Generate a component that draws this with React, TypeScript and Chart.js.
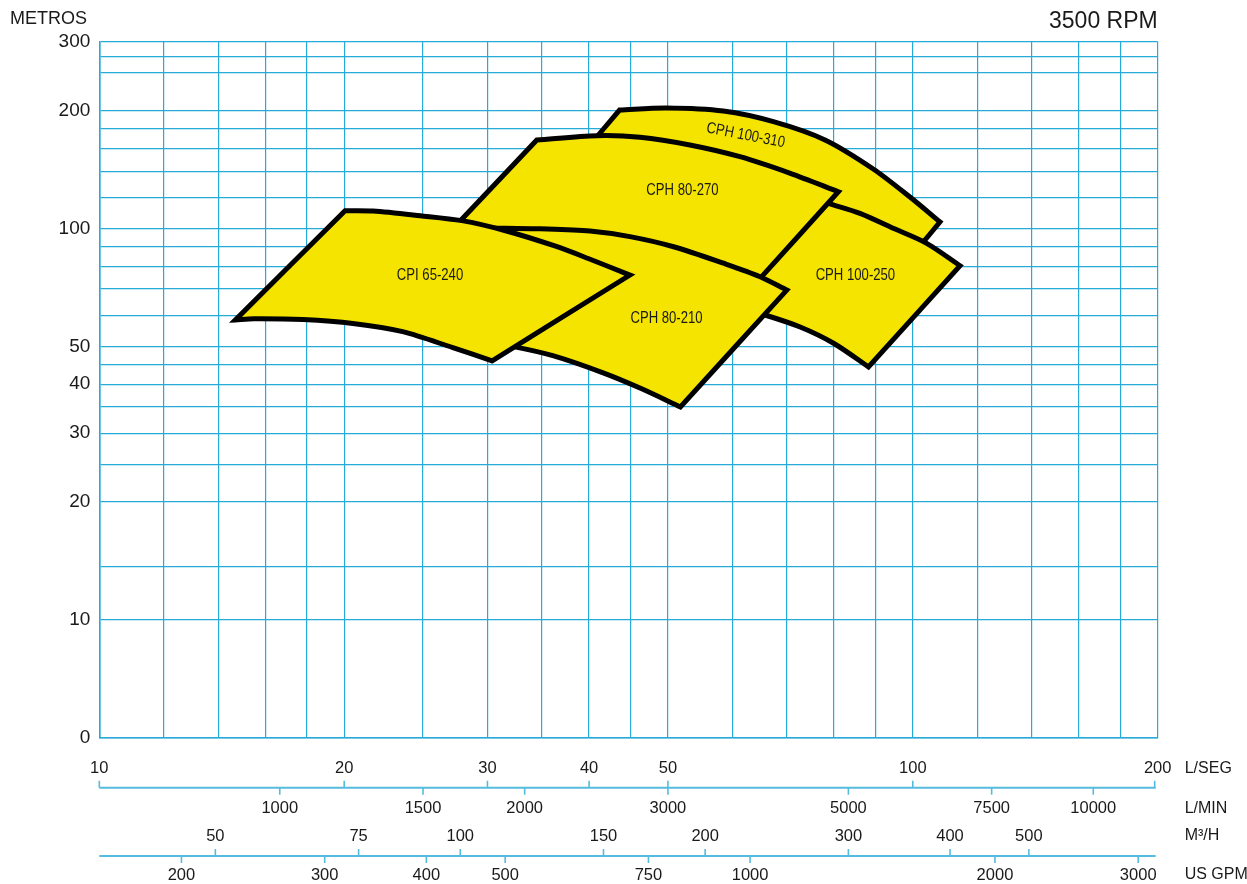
import { useEffect, useRef } from 'react';
import { Chart, registerables } from 'chart.js';

Chart.register(...registerables);

// ---- Axis definitions (L/SEG flow on a log axis, head in metres on a log axis) ----
const FLOW_GRID = [10, 12, 14, 16, 18, 20, 25, 30, 35, 40, 45, 50, 60, 70, 80, 90, 100, 120, 140, 160, 180, 200];
const FLOW_LABELS = [10, 20, 30, 40, 50, 100, 200];
const HEAD_GRID = [5, 10, 13.7, 20, 25, 30, 35, 40, 45, 50, 60, 70, 80, 90, 100, 120, 140, 160, 180, 200, 250, 275, 300];
const HEAD_LABELS = [5, 10, 20, 30, 40, 50, 100, 200, 300]; // bottom line (5) is printed as "0"

// ---- Secondary flow units ----
const LMIN_TICKS = [1000, 1500, 2000, 3000, 5000, 7500, 10000];
const M3H_TICKS = [50, 75, 100, 150, 200, 300, 400, 500];
const GPM_TICKS = [200, 300, 400, 500, 750, 1000, 2000, 3000];
const LMIN_PER_LSEG = 60;
const M3H_PER_LSEG = 3.6;
const GPM_PER_LSEG = 15.8503;

// ---- Pump coverage areas (flow L/SEG, head m), outline order; *_CORNERS = indices of sharp vertices ----
const CPI_65_240_Q = [30.4, 27.2, 23.6, 20.5, 17.8, 15.5, 14.7, 20.05, 21.7, 24.8, 27.9, 31.5, 36.3, 39.9, 44.9];
const CPI_65_240_H = [45.9, 49.6, 54.5, 57.2, 58.5, 58.8, 58.4, 111.0, 110.8, 107.8, 104.7, 98.8, 90.2, 83.8, 76.0];
const CPI_65_240_CORNERS = [6, 7, 14];

const CPH_80_210_Q = [30.4, 31.5, 34.8, 40.1, 44.9, 50.8, 58.5, 64.9, 70.0, 51.8, 46.2, 41.7, 36.1, 32.3, 30.9];
const CPH_80_210_H = [100.3, 100.1, 99.8, 98.5, 95.3, 89.8, 81.5, 75.3, 69.6, 35.0, 39.1, 42.7, 47.3, 49.9, 50.4];
const CPH_80_210_CORNERS = [8, 9, 14];

const CPH_80_270_Q = [27.4, 34.5, 40.9, 46.2, 53.2, 61.3, 70.7, 81.0, 65.2, 63.1, 41.3, 28.6];
const CPH_80_270_H = [101.4, 168.3, 172.6, 171.0, 163.4, 152.5, 138.3, 124.1, 75.3, 69.6, 83.1, 93.4];
const CPH_80_270_CORNERS = [1, 7, 8, 9, 10, 11];

const CPH_100_250_Q = [75.8, 78.7, 86.1, 94.6, 104.0, 114.3, 88.2, 79.9, 72.7, 65.8, 62.2, 64.0];
const CPH_100_250_H = [118.9, 115.9, 109.3, 100.1, 91.6, 80.3, 44.3, 50.9, 56.0, 60.1, 61.9, 88.1];
const CPH_100_250_CORNERS = [5, 6, 10, 11];

const CPH_100_310_Q = [40.1, 43.6, 49.8, 58.5, 67.4, 78.0, 89.4, 99.2, 108.0, 103.5, 99.2, 72.7, 43.7];
const CPH_100_310_H = [163.4, 200.7, 203.1, 199.5, 187.4, 168.3, 141.9, 120.3, 103.9, 93.4, 87.1, 118.2, 158.6];
const CPH_100_310_CORNERS = [1, 8, 9, 10, 11, 12];

// ---- Area labels ----
const AREA_NAMES = ['CPI 65-240', 'CPH 80-210', 'CPH 80-270', 'CPH 100-250', 'CPH 100-310'];
const AREA_LABEL_Q = [25.5, 49.8, 52.1, 85.0, 62.3];
const AREA_LABEL_H = [75.6, 58.9, 124.6, 75.6, 172.8];
const AREA_LABEL_ANGLE = [0, 0, 0, 0, 11];

const SANS = '"Liberation Sans", Arial, Helvetica, sans-serif';
const GRID_CYAN = 'rgb(38,170,215)';
const AXIS_CYAN = 'rgb(85,188,224)';
const INK = '#1a1a1a';
const YELLOW = 'rgb(244,228,0)';

// Builds the closed outline; sharp vertices are repeated so the smoothed curve keeps them pointed.
function closedOutline(q: number[], h: number[], corners: number[]) {
  const pts: { x: number; y: number }[] = [];
  q.forEach((x, i) => {
    pts.push({ x, y: h[i] });
    if (corners.includes(i)) pts.push({ x, y: h[i] });
  });
  pts.push({ ...pts[0] });
  return pts;
}

const AREAS = [
  { name: 'CPI 65-240', q: CPI_65_240_Q, h: CPI_65_240_H, c: CPI_65_240_CORNERS, order: 0 },
  { name: 'CPH 80-210', q: CPH_80_210_Q, h: CPH_80_210_H, c: CPH_80_210_CORNERS, order: 1 },
  { name: 'CPH 80-270', q: CPH_80_270_Q, h: CPH_80_270_H, c: CPH_80_270_CORNERS, order: 2 },
  { name: 'CPH 100-250', q: CPH_100_250_Q, h: CPH_100_250_H, c: CPH_100_250_CORNERS, order: 3 },
  { name: 'CPH 100-310', q: CPH_100_310_Q, h: CPH_100_310_H, c: CPH_100_310_CORNERS, order: 4 },
];

const overlayPlugin = {
  id: 'pumpOverlay',
  afterDatasetsDraw(chart: any) {
    const { ctx } = chart;
    const xs = chart.scales.x;
    const ys = chart.scales.y;
    ctx.save();
    ctx.fillStyle = INK;
    ctx.font = `16px ${SANS}`;
    ctx.textAlign = 'center';
    ctx.textBaseline = 'middle';
    AREA_NAMES.forEach((name, i) => {
      const px = xs.getPixelForValue(AREA_LABEL_Q[i]);
      const py = ys.getPixelForValue(AREA_LABEL_H[i]);
      ctx.save();
      ctx.translate(px, py);
      ctx.rotate((AREA_LABEL_ANGLE[i] * Math.PI) / 180);
      ctx.scale(0.82, 1);
      ctx.fillText(name, 0, 0);
      ctx.restore();
    });
    ctx.restore();
  },
  afterDraw(chart: any) {
    const { ctx, chartArea: a } = chart;
    const xs = chart.scales.x;
    const x0 = xs.getPixelForValue(10);
    const x1 = xs.getPixelForValue(200);
    const line1 = a.bottom + 50;
    const line2 = a.bottom + 118.3;
    ctx.save();

    // axis lines
    ctx.strokeStyle = AXIS_CYAN;
    ctx.lineWidth = 2;
    ctx.beginPath();
    ctx.moveTo(x0, line1);
    ctx.lineTo(x1 - 2, line1);
    ctx.moveTo(x0, line2);
    ctx.lineTo(x1 - 2, line2);
    ctx.stroke();

    // tick marks
    ctx.lineWidth = 1.6;
    ctx.beginPath();
    const tick = (x: number, y: number, dy: number) => {
      ctx.moveTo(x, y);
      ctx.lineTo(x, y + dy);
    };
    FLOW_LABELS.forEach((v) => tick(Math.min(xs.getPixelForValue(v), x1 - 3), line1, -7));
    LMIN_TICKS.forEach((v) => tick(xs.getPixelForValue(v / LMIN_PER_LSEG), line1, 7));
    M3H_TICKS.forEach((v) => tick(xs.getPixelForValue(v / M3H_PER_LSEG), line2, -7));
    GPM_TICKS.forEach((v) => tick(xs.getPixelForValue(v / GPM_PER_LSEG), line2, 7));
    ctx.stroke();

    // unit tick labels
    ctx.fillStyle = INK;
    ctx.font = `16.5px ${SANS}`;
    ctx.textAlign = 'center';
    ctx.textBaseline = 'middle';
    LMIN_TICKS.forEach((v) => ctx.fillText(String(v), xs.getPixelForValue(v / LMIN_PER_LSEG), line1 + 20.6));
    M3H_TICKS.forEach((v) => ctx.fillText(String(v), xs.getPixelForValue(v / M3H_PER_LSEG), line2 - 19.5));
    GPM_TICKS.forEach((v) => ctx.fillText(String(v), xs.getPixelForValue(v / GPM_PER_LSEG), line2 + 19));

    // unit names
    ctx.textAlign = 'left';
    ctx.font = `16px ${SANS}`;
    const ux = a.right + 27;
    ctx.fillText('L/SEG', ux, a.bottom + 30.8);
    ctx.fillText('L/MIN', ux, line1 + 20.6);
    ctx.fillText('M³/H', ux, line2 - 20.5);
    ctx.fillText('US GPM', ux, line2 + 18.5);

    // titles
    ctx.font = `18px ${SANS}`;
    ctx.textAlign = 'left';
    ctx.fillText('METROS', 10, a.top - 23);
    ctx.font = `23px ${SANS}`;
    ctx.textAlign = 'right';
    ctx.fillText('3500 RPM', a.right, a.top - 20.5);
    ctx.restore();
  },
};

export default function App() {
  const canvasRef = useRef<HTMLCanvasElement | null>(null);

  useEffect(() => {
    const canvas = canvasRef.current;
    if (!canvas) return;
    const chart = new Chart(canvas, {
      type: 'line',
      data: {
        datasets: AREAS.map((ar) => ({
          label: ar.name,
          data: closedOutline(ar.q, ar.h, ar.c),
          order: ar.order,
          borderColor: '#000000',
          borderWidth: 5,
          borderJoinStyle: 'miter',
          borderCapStyle: 'round',
          backgroundColor: YELLOW,
          fill: 'shape',
          tension: 0.3,
          pointRadius: 0,
          pointHoverRadius: 0,
        })),
      },
      options: {
        animation: false,
        responsive: true,
        maintainAspectRatio: false,
        events: [],
        layout: { padding: { left: 0, top: 41.7, right: 89.3, bottom: 0 } },
        plugins: {
          legend: { display: false },
          tooltip: { enabled: false },
          title: { display: false },
        },
        scales: {
          x: {
            type: 'logarithmic',
            min: 10,
            max: 200,
            afterBuildTicks: (scale: any) => {
              scale.ticks = FLOW_GRID.map((v) => ({ value: v }));
            },
            afterFit: (scale: any) => {
              scale.height = 146.3;
            },
            grid: { color: GRID_CYAN, lineWidth: 1.2, drawTicks: false },
            border: { display: true, color: GRID_CYAN, width: 1.6 },
            ticks: {
              autoSkip: false,
              maxRotation: 0,
              minRotation: 0,
              padding: 20.4,
              color: INK,
              font: { family: SANS, size: 16.5 },
              callback: (v: any) => (FLOW_LABELS.includes(Number(v)) ? String(v) : ''),
            },
          },
          y: {
            type: 'logarithmic',
            min: 5,
            max: 300,
            afterBuildTicks: (scale: any) => {
              scale.ticks = HEAD_GRID.map((v) => ({ value: v }));
            },
            afterFit: (scale: any) => {
              scale.width = 99.3;
            },
            grid: { color: GRID_CYAN, lineWidth: 1.2, drawTicks: false },
            border: { display: true, color: GRID_CYAN, width: 1.6 },
            ticks: {
              autoSkip: false,
              padding: 9,
              color: INK,
              font: { family: SANS, size: 19 },
              callback: (v: any) => {
                const n = Number(v);
                if (n === 5) return '0';
                return HEAD_LABELS.includes(n) ? String(n) : '';
              },
            },
          },
        },
      } as any,
      plugins: [overlayPlugin],
    } as any);
    return () => chart.destroy();
  }, []);

  return (
    <div style={{ position: 'fixed', left: 0, top: 0, width: 1247, height: 884, background: '#ffffff' }}>
      <canvas ref={canvasRef} />
    </div>
  );
}
